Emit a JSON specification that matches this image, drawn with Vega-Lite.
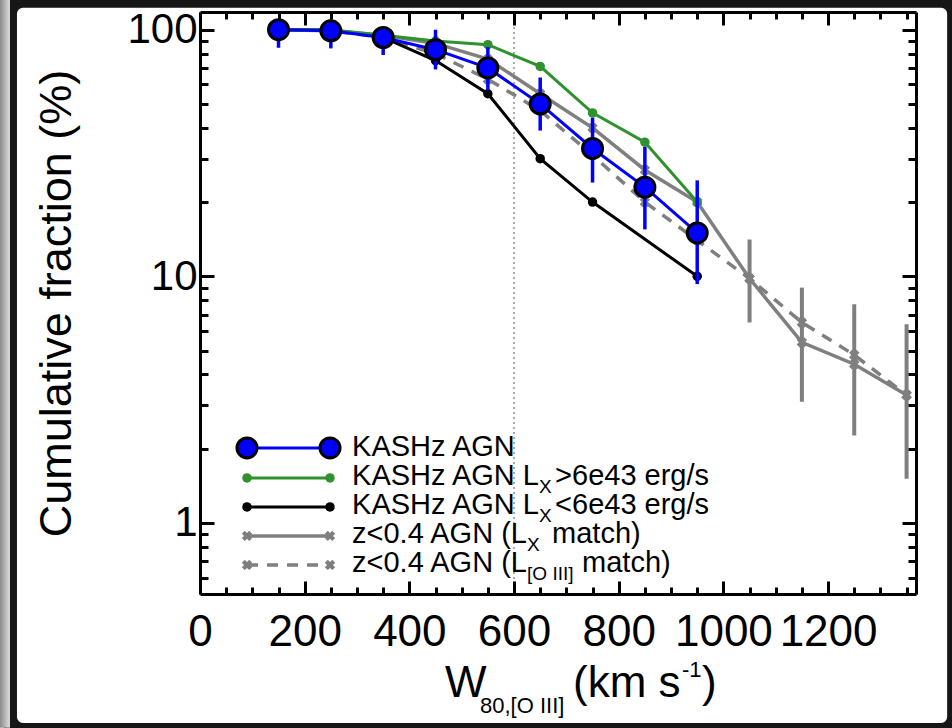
{
  "$schema": "https://vega.github.io/schema/vega-lite/v6.json",
  "width": 716,
  "height": 582,
  "autosize": {"type": "none"},
  "padding": {"left": 200, "top": 12, "right": 36, "bottom": 134},
  "background": "white",
  "config": {
    "view": {"stroke": null},
    "font": "Liberation Sans",
    "axis": {
      "domainColor": "black",
      "domainWidth": 3,
      "tickColor": "black",
      "tickWidth": 3,
      "grid": false,
      "labelFont": "Liberation Sans",
      "labelColor": "black",
      "titleFont": "Liberation Sans",
      "titleColor": "black",
      "titleFontWeight": "normal",
      "labelOverlap": false,
      "labelFlush": false,
      "labelBound": false
    }
  },
  "datasets": {
    "kashz": [
      {"w": 150, "f": 100, "lo": 84.5, "hi": 110},
      {"w": 250, "f": 99, "lo": 84, "hi": 110},
      {"w": 350, "f": 93, "lo": 79, "hi": 98},
      {"w": 450, "f": 83, "lo": 69, "hi": 100},
      {"w": 550, "f": 70, "lo": 57, "hi": 85},
      {"w": 650, "f": 50, "lo": 39, "hi": 64},
      {"w": 750, "f": 33, "lo": 24, "hi": 44},
      {"w": 850, "f": 23, "lo": 15.5, "hi": 33.5},
      {"w": 950, "f": 15, "lo": 9.3, "hi": 24.5}
    ],
    "kashzHigh": [
      {"w": 150, "f": 100},
      {"w": 250, "f": 100},
      {"w": 350, "f": 95},
      {"w": 450, "f": 90},
      {"w": 550, "f": 87},
      {"w": 650, "f": 71},
      {"w": 750, "f": 46},
      {"w": 850, "f": 35},
      {"w": 950, "f": 20}
    ],
    "kashzLow": [
      {"w": 150, "f": 100},
      {"w": 250, "f": 100},
      {"w": 350, "f": 93},
      {"w": 450, "f": 75},
      {"w": 550, "f": 55},
      {"w": 650, "f": 30},
      {"w": 750, "f": 20},
      {"w": 950, "f": 10}
    ],
    "lxMatch": [
      {"w": 150, "f": 100},
      {"w": 250, "f": 99},
      {"w": 350, "f": 95},
      {"w": 450, "f": 88},
      {"w": 550, "f": 76},
      {"w": 650, "f": 55},
      {"w": 750, "f": 40},
      {"w": 850, "f": 27},
      {"w": 950, "f": 20},
      {"w": 1050, "f": 9.8, "lo": 6.5, "hi": 14.1},
      {"w": 1150, "f": 5.4, "lo": 3.1, "hi": 9.0},
      {"w": 1250, "f": 4.4, "lo": 2.26, "hi": 7.7},
      {"w": 1350, "f": 3.3, "lo": 1.51, "hi": 6.4}
    ],
    "oiiiMatch": [
      {"w": 150, "f": 100},
      {"w": 250, "f": 99},
      {"w": 350, "f": 93},
      {"w": 450, "f": 80},
      {"w": 550, "f": 63},
      {"w": 650, "f": 47},
      {"w": 750, "f": 31},
      {"w": 850, "f": 20},
      {"w": 950, "f": 14},
      {"w": 1050, "f": 9.8},
      {"w": 1150, "f": 6.5},
      {"w": 1250, "f": 4.8},
      {"w": 1350, "f": 3.3}
    ],
    "key": [
      {"k": "kashz", "w": 89.8, "f": 2.015},
      {"k": "kashz", "w": 248.4, "f": 2.015},
      {"k": "high", "w": 89.8, "f": 1.522},
      {"k": "high", "w": 248.4, "f": 1.522},
      {"k": "low", "w": 89.8, "f": 1.161},
      {"k": "low", "w": 248.4, "f": 1.161},
      {"k": "lx", "w": 89.8, "f": 0.886},
      {"k": "lx", "w": 248.4, "f": 0.886},
      {"k": "oiii", "w": 89.8, "f": 0.6756},
      {"k": "oiii", "w": 248.4, "f": 0.6756}
    ],
    "labels": [
      {"t": "KASHz AGN", "w": 290.5, "f": 1.869, "r": "main"},
      {"t": "KASHz AGN L", "w": 290.5, "f": 1.426, "r": "main"},
      {"t": "X", "w": 647.8, "f": 1.323, "r": "sub"},
      {"t": ">6e43 erg/s", "w": 678.4, "f": 1.426, "r": "main"},
      {"t": "KASHz AGN L", "w": 290.5, "f": 1.088, "r": "main"},
      {"t": "X", "w": 647.8, "f": 1.0095, "r": "sub"},
      {"t": "<6e43 erg/s", "w": 678.4, "f": 1.088, "r": "main"},
      {"t": "z<0.4 AGN (L", "w": 290.5, "f": 0.8295, "r": "main"},
      {"t": "X", "w": 624.9, "f": 0.7698, "r": "sub"},
      {"t": "match)", "w": 672.7, "f": 0.8295, "r": "main"},
      {"t": "z<0.4 AGN (L", "w": 290.5, "f": 0.6327, "r": "main"},
      {"t": "[O III]", "w": 624.9, "f": 0.587, "r": "sub"},
      {"t": "match)", "w": 730.0, "f": 0.6327, "r": "main"}
    ],
    "xTitle": [
      {"t": "W", "w": 468.2, "f": 0.1968, "r": "main"},
      {"t": "80,[O III]", "w": 535.0, "f": 0.1695, "r": "sub"},
      {"t": "(km s", "w": 712.8, "f": 0.1968, "r": "main"},
      {"t": "-1", "w": 921.0, "f": 0.2373, "r": "sub"},
      {"t": ")", "w": 959.3, "f": 0.1968, "r": "main"}
    ]
  },
  "layer": [
    {
      "data": {"values": [{}]},
      "mark": {"type": "rect", "filled": false, "stroke": "#161616", "strokeWidth": 16, "cornerRadius": 14},
      "encoding": {
        "x": {"datum": -365.0, "type": "quantitative", "scale": {"domain": [0, 1368], "nice": false, "zero": false}, "axis": null},
        "x2": {"datum": 1442.8},
        "y": {"datum": 0.1433, "type": "quantitative", "scale": {"type": "log", "domain": [0.515, 118], "nice": false}, "axis": null},
        "y2": {"datum": 132.4}
      }
    },
    {
      "data": {"values": [{}]},
      "mark": {"type": "rect", "fill": {"gradient": "linear", "x1": 0, "x2": 1, "y1": 0, "y2": 0, "stops": [{"offset": 0, "color": "#8a8a8a"}, {"offset": 1, "color": "#dedede"}]}},
      "encoding": {
        "x": {"datum": -382.2, "type": "quantitative", "scale": {"domain": [0, 1368], "nice": false, "zero": false}, "axis": null},
        "x2": {"datum": -363.1},
        "y": {"datum": 0.1478, "type": "quantitative", "scale": {"type": "log", "domain": [0.515, 118], "nice": false}, "axis": null},
        "y2": {"datum": 132.4}
      }
    },
    {
      "data": {"values": [{"w": 600}]},
      "mark": {"type": "rule", "color": "#aaaaaa", "strokeWidth": 2, "strokeDash": [2, 3]},
      "encoding": {
        "x": {"field": "w", "type": "quantitative", "scale": {"domain": [0, 1368], "nice": false, "zero": false}, "axis": null}
      }
    },
    {
      "data": {"name": "lxMatch"},
      "mark": {"type": "rule", "color": "#7f7f7f", "strokeWidth": 4},
      "encoding": {
        "x": {"field": "w", "type": "quantitative", "scale": {"domain": [0, 1368], "nice": false, "zero": false}, "axis": null},
        "y": {"field": "lo", "type": "quantitative", "scale": {"type": "log", "domain": [0.515, 118], "nice": false}, "axis": null},
        "y2": {"field": "hi"}
      }
    },
    {
      "data": {"name": "oiiiMatch"},
      "mark": {"type": "line", "color": "#7f7f7f", "strokeWidth": 3.5, "strokeDash": [11, 9], "point": {"shape": "cross", "angle": 45, "size": 110, "filled": true, "color": "#7f7f7f"}},
      "encoding": {
        "x": {"field": "w", "type": "quantitative", "scale": {"domain": [0, 1368], "nice": false, "zero": false}, "axis": null},
        "y": {"field": "f", "type": "quantitative", "scale": {"type": "log", "domain": [0.515, 118], "nice": false}, "axis": null}
      }
    },
    {
      "data": {"name": "lxMatch"},
      "mark": {"type": "line", "color": "#7f7f7f", "strokeWidth": 3.5, "point": {"shape": "cross", "angle": 45, "size": 110, "filled": true, "color": "#7f7f7f"}},
      "encoding": {
        "x": {"field": "w", "type": "quantitative", "scale": {"domain": [0, 1368], "nice": false, "zero": false},
          "axis": {"orient": "top", "labels": false, "title": null, "zindex": 1,
            "values": [0, 50, 100, 150, 200, 250, 300, 350, 400, 450, 500, 550, 600, 650, 700, 750, 800, 850, 900, 950, 1000, 1050, 1100, 1150, 1200, 1250, 1300, 1350],
            "tickSize": {"condition": {"test": "datum.value % 200 === 0", "value": -13}, "value": -7}}},
        "y": {"field": "f", "type": "quantitative", "scale": {"type": "log", "domain": [0.515, 118], "nice": false},
          "axis": {"orient": "right", "labels": false, "title": null, "zindex": 1,
            "values": [0.6, 0.7, 0.8, 0.9, 1, 2, 3, 4, 5, 6, 7, 8, 9, 10, 20, 30, 40, 50, 60, 70, 80, 90, 100],
            "tickSize": {"condition": {"test": "datum.value === 1 || datum.value === 10 || datum.value === 100", "value": -14}, "value": -8}}}
      }
    },
    {
      "data": {"name": "kashzLow"},
      "mark": {"type": "line", "color": "black", "strokeWidth": 3, "point": {"filled": true, "size": 90, "color": "black"}},
      "encoding": {
        "x": {"field": "w", "type": "quantitative", "scale": {"domain": [0, 1368], "nice": false, "zero": false}, "axis": null},
        "y": {"field": "f", "type": "quantitative", "scale": {"type": "log", "domain": [0.515, 118], "nice": false}, "axis": null}
      }
    },
    {
      "data": {"name": "kashzHigh"},
      "mark": {"type": "line", "color": "#2f922f", "strokeWidth": 3, "point": {"filled": true, "size": 90, "color": "#2f922f"}},
      "encoding": {
        "x": {"field": "w", "type": "quantitative", "scale": {"domain": [0, 1368], "nice": false, "zero": false}, "axis": null},
        "y": {"field": "f", "type": "quantitative", "scale": {"type": "log", "domain": [0.515, 118], "nice": false}, "axis": null}
      }
    },
    {
      "data": {"name": "kashz"},
      "mark": {"type": "rule", "color": "#0000ff", "strokeWidth": 3.5},
      "encoding": {
        "x": {"field": "w", "type": "quantitative", "scale": {"domain": [0, 1368], "nice": false, "zero": false}, "axis": null},
        "y": {"field": "lo", "type": "quantitative", "scale": {"type": "log", "domain": [0.515, 118], "nice": false}, "axis": null},
        "y2": {"field": "hi"}
      }
    },
    {
      "data": {"name": "kashz"},
      "mark": {"type": "line", "color": "#0000ff", "strokeWidth": 3, "point": {"filled": true, "size": 400, "fill": "#0000ff", "stroke": "black", "strokeWidth": 3}},
      "encoding": {
        "x": {"field": "w", "type": "quantitative", "scale": {"domain": [0, 1368], "nice": false, "zero": false},
          "axis": {"orient": "bottom", "title": null, "zindex": 1,
            "values": [0, 50, 100, 150, 200, 250, 300, 350, 400, 450, 500, 550, 600, 650, 700, 750, 800, 850, 900, 950, 1000, 1050, 1100, 1150, 1200, 1250, 1300, 1350],
            "labelExpr": "datum.value % 200 === 0 ? format(datum.value, 'd') : ''",
            "labelFontSize": 44, "labelPadding": 29,
            "tickSize": {"condition": {"test": "datum.value % 200 === 0", "value": -13}, "value": -7}}},
        "y": {"field": "f", "type": "quantitative", "scale": {"type": "log", "domain": [0.515, 118], "nice": false},
          "axis": {"orient": "left", "title": "Cumulative fraction (%)", "titleFontSize": 45, "titlePadding": 47, "zindex": 1,
            "values": [0.6, 0.7, 0.8, 0.9, 1, 2, 3, 4, 5, 6, 7, 8, 9, 10, 20, 30, 40, 50, 60, 70, 80, 90, 100],
            "labelExpr": "datum.value === 1 || datum.value === 10 || datum.value === 100 ? format(datum.value, 'd') : ''",
            "labelFontSize": 42, "labelPadding": 17,
            "tickSize": {"condition": {"test": "datum.value === 1 || datum.value === 10 || datum.value === 100", "value": -14}, "value": -8}}}
      }
    },
    {
      "data": {"name": "key"},
      "transform": [{"filter": "datum.k === 'oiii'"}],
      "mark": {"type": "line", "color": "#7f7f7f", "strokeWidth": 3.5, "strokeDash": [11, 9], "point": {"shape": "cross", "angle": 45, "size": 110, "filled": true, "color": "#7f7f7f"}},
      "encoding": {
        "x": {"field": "w", "type": "quantitative", "scale": {"domain": [0, 1368], "nice": false, "zero": false}, "axis": null},
        "y": {"field": "f", "type": "quantitative", "scale": {"type": "log", "domain": [0.515, 118], "nice": false}, "axis": null}
      }
    },
    {
      "data": {"name": "key"},
      "transform": [{"filter": "datum.k === 'lx'"}],
      "mark": {"type": "line", "color": "#7f7f7f", "strokeWidth": 3.5, "point": {"shape": "cross", "angle": 45, "size": 110, "filled": true, "color": "#7f7f7f"}},
      "encoding": {
        "x": {"field": "w", "type": "quantitative", "scale": {"domain": [0, 1368], "nice": false, "zero": false}, "axis": null},
        "y": {"field": "f", "type": "quantitative", "scale": {"type": "log", "domain": [0.515, 118], "nice": false}, "axis": null}
      }
    },
    {
      "data": {"name": "key"},
      "transform": [{"filter": "datum.k === 'low'"}],
      "mark": {"type": "line", "color": "black", "strokeWidth": 3, "point": {"filled": true, "size": 90, "color": "black"}},
      "encoding": {
        "x": {"field": "w", "type": "quantitative", "scale": {"domain": [0, 1368], "nice": false, "zero": false}, "axis": null},
        "y": {"field": "f", "type": "quantitative", "scale": {"type": "log", "domain": [0.515, 118], "nice": false}, "axis": null}
      }
    },
    {
      "data": {"name": "key"},
      "transform": [{"filter": "datum.k === 'high'"}],
      "mark": {"type": "line", "color": "#2f922f", "strokeWidth": 3, "point": {"filled": true, "size": 90, "color": "#2f922f"}},
      "encoding": {
        "x": {"field": "w", "type": "quantitative", "scale": {"domain": [0, 1368], "nice": false, "zero": false}, "axis": null},
        "y": {"field": "f", "type": "quantitative", "scale": {"type": "log", "domain": [0.515, 118], "nice": false}, "axis": null}
      }
    },
    {
      "data": {"name": "key"},
      "transform": [{"filter": "datum.k === 'kashz'"}],
      "mark": {"type": "line", "color": "#0000ff", "strokeWidth": 3, "point": {"filled": true, "size": 400, "fill": "#0000ff", "stroke": "black", "strokeWidth": 3}},
      "encoding": {
        "x": {"field": "w", "type": "quantitative", "scale": {"domain": [0, 1368], "nice": false, "zero": false}, "axis": null},
        "y": {"field": "f", "type": "quantitative", "scale": {"type": "log", "domain": [0.515, 118], "nice": false}, "axis": null}
      }
    },
    {
      "data": {"name": "labels"},
      "transform": [{"filter": "datum.r === 'main'"}],
      "mark": {"type": "text", "align": "left", "baseline": "alphabetic", "fontSize": 29, "font": "Liberation Sans", "color": "black"},
      "encoding": {
        "x": {"field": "w", "type": "quantitative", "scale": {"domain": [0, 1368], "nice": false, "zero": false}, "axis": null},
        "y": {"field": "f", "type": "quantitative", "scale": {"type": "log", "domain": [0.515, 118], "nice": false}, "axis": null},
        "text": {"field": "t"}
      }
    },
    {
      "data": {"name": "labels"},
      "transform": [{"filter": "datum.r === 'sub'"}],
      "mark": {"type": "text", "align": "left", "baseline": "alphabetic", "fontSize": 19, "font": "Liberation Sans", "color": "black"},
      "encoding": {
        "x": {"field": "w", "type": "quantitative", "scale": {"domain": [0, 1368], "nice": false, "zero": false}, "axis": null},
        "y": {"field": "f", "type": "quantitative", "scale": {"type": "log", "domain": [0.515, 118], "nice": false}, "axis": null},
        "text": {"field": "t"}
      }
    },
    {
      "data": {"name": "xTitle"},
      "transform": [{"filter": "datum.r === 'main'"}],
      "mark": {"type": "text", "align": "left", "baseline": "alphabetic", "fontSize": 44, "font": "Liberation Sans", "color": "black"},
      "encoding": {
        "x": {"field": "w", "type": "quantitative", "scale": {"domain": [0, 1368], "nice": false, "zero": false}, "axis": null},
        "y": {"field": "f", "type": "quantitative", "scale": {"type": "log", "domain": [0.515, 118], "nice": false}, "axis": null},
        "text": {"field": "t"}
      }
    },
    {
      "data": {"name": "xTitle"},
      "transform": [{"filter": "datum.r === 'sub'"}],
      "mark": {"type": "text", "align": "left", "baseline": "alphabetic", "fontSize": 22, "font": "Liberation Sans", "color": "black"},
      "encoding": {
        "x": {"field": "w", "type": "quantitative", "scale": {"domain": [0, 1368], "nice": false, "zero": false}, "axis": null},
        "y": {"field": "f", "type": "quantitative", "scale": {"type": "log", "domain": [0.515, 118], "nice": false}, "axis": null},
        "text": {"field": "t"}
      }
    }
  ]
}
